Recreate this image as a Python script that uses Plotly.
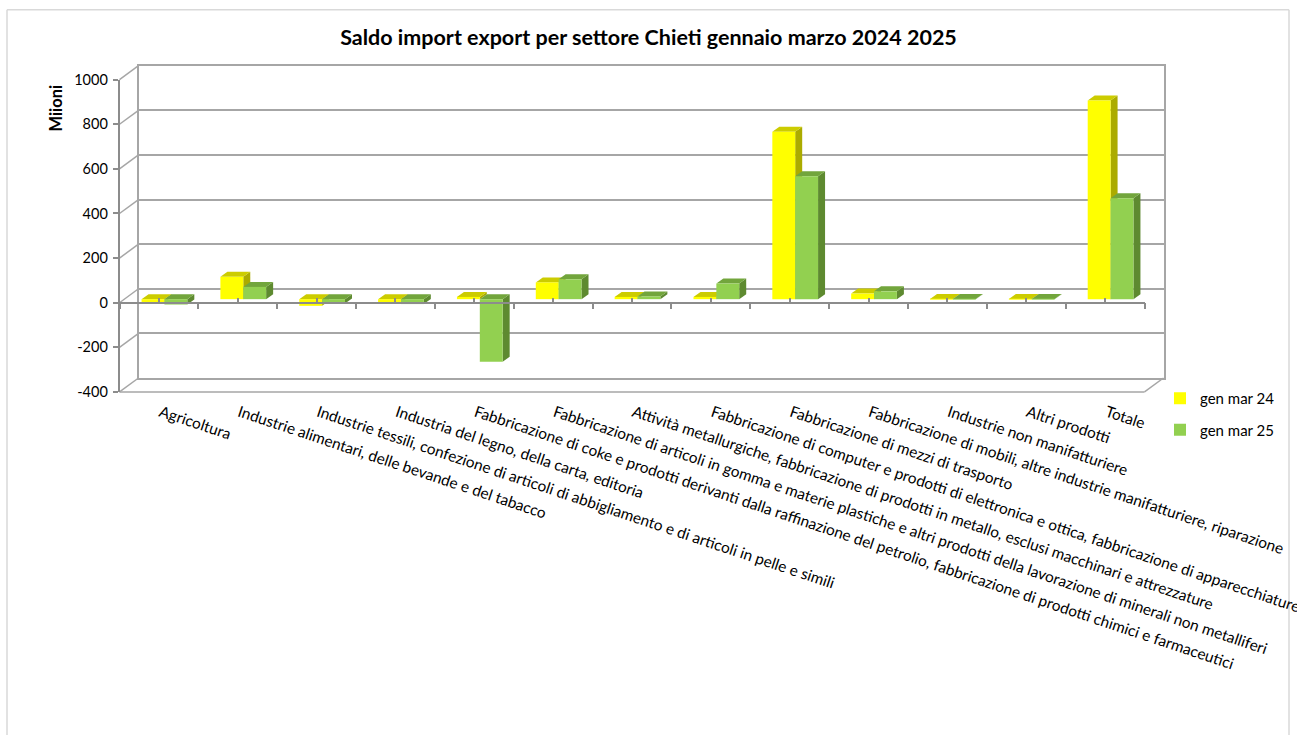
import plotly.graph_objects as go

# ---------------- data ----------------
categories = [
    "Agricoltura",
    "Industrie alimentari, delle bevande e del tabacco",
    "Industrie tessili, confezione di articoli di abbigliamento e di articoli in pelle e simili",
    "Industria del legno, della carta, editoria",
    "Fabbricazione di coke e prodotti derivanti dalla raffinazione del petrolio, fabbricazione di prodotti chimici e farmaceutici",
    "Fabbricazione di articoli in gomma e materie plastiche e altri prodotti della lavorazione di minerali non metalliferi",
    "Attività metallurgiche, fabbricazione di prodotti in metallo, esclusi macchinari e attrezzature",
    "Fabbricazione di computer e prodotti di elettronica e ottica, fabbricazione di apparecchiature",
    "Fabbricazione di mezzi di trasporto",
    "Fabbricazione di mobili, altre industrie manifatturiere, riparazione",
    "Industrie non manifatturiere",
    "Altri prodotti",
    "Totale",
]
series_names = ["gen mar 24", "gen mar 25"]
gen_mar_24 = [-14, 100, -30, -15, 10, 75, 10, 10, 751, 25, 1, 1, 891]
gen_mar_25 = [-24, 55, -19, -22, -280, 89, 12, 70, 551, 35, 1, 1, 452]
y_ticks = [-400, -200, 0, 200, 400, 600, 800, 1000]
y_tick_labels = ["-400", "-200", "0", "200", "400", "600", "800", "1000"]
title_text = "Saldo import export per settore Chieti gennaio marzo 2024 2025"
y_title = "Miioni"

# ---------------- layout geometry (pixels of the picture) ----------------
W, H = 1297, 735
FONT = "Lato"
# vertical calibration of the photographed page
OFF, SC = 8.2, 0.979

def px(p):
    return p / W

def py(p):
    return 1 - ((p - OFF) / SC) / H

# back wall
BX0, BX1, BY_TOP, BY_BOT = 138.5, 1163.5, 65, 378
# front plane
FX0, FX1, FY_TOP, FY_BOT = 119.5, 1144.5, 79, 392
# bar plane
X0, X1, ZERO_BAR = 125, 1150, 299
YMIN, YMAX = y_ticks[0], y_ticks[-1]
S = (BY_BOT - BY_TOP) / (YMAX - YMIN)  # px per unit
FRONT_ZERO = FY_BOT - (0 - YMIN) * S

n = len(categories)
cat_px = (X1 - X0) / n
bargap = 0.42
half = (1 - bargap) / 2
DX = 7 / cat_px
DY = 5 / S

colors_front = ["#FFFF00", "#92D050"]
colors_top = ["#CCCC00", "#72A53C"]
colors_side = ["#ABAB00", "#5E8A30"]

fig = go.Figure()

# bars (front faces)
for j, (name, vals) in enumerate(zip(series_names, [gen_mar_24, gen_mar_25])):
    fig.add_trace(go.Bar(
        x=list(range(n)), y=vals, name=name,
        marker=dict(color=colors_front[j], line=dict(width=0)),
        xaxis="x2", yaxis="y2", hoverinfo="skip",
        legendgroup=name,
    ))

# invisible traces so the wall / front-plane subplots exist
fig.add_trace(go.Scatter(x=[0], y=[0], xaxis="x3", yaxis="y3", mode="markers",
                         marker=dict(opacity=0), showlegend=False, hoverinfo="skip"))
fig.add_trace(go.Scatter(x=[0.5], y=[0], xaxis="x", yaxis="y", mode="markers",
                         marker=dict(opacity=0), showlegend=False, hoverinfo="skip"))

shapes = []

def poly(pts):
    return "M " + " L ".join(f"{x},{y}" for x, y in pts) + " Z"

# 3D faces of bars, derived from the data
for j, vals in enumerate([gen_mar_24, gen_mar_25]):
    for i, v in enumerate(vals):
        x0 = i - half + j * half
        x1 = x0 + half
        top = max(v, 0)
        bot = min(v, 0)
        side = [(x1, bot), (x1, top), (x1 + DX, top + DY), (x1 + DX, bot + DY)]
        topf = [(x0, top), (x1, top), (x1 + DX, top + DY), (x0 + DX, top + DY)]
        for pts, col in ((side, colors_side[j]), (topf, colors_top[j])):
            shapes.append(dict(type="path", path=poly(pts), xref="x2", yref="y2",
                               fillcolor=col, line=dict(width=0), layer="below"))

LINE = "#a6a6a6"
# left wall perspective lines
for v in y_ticks:
    fy = FY_BOT - (v - YMIN) * S
    by = BY_BOT - (v - YMIN) * S
    shapes.append(dict(type="line", xref="paper", yref="paper",
                       x0=px(FX0), y0=py(fy), x1=px(BX0), y1=py(by),
                       line=dict(color=LINE, width=1.5), layer="below"))
# floor front edge and right slant
shapes.append(dict(type="line", xref="paper", yref="paper",
                   x0=px(FX0), y0=py(FY_BOT), x1=px(FX1), y1=py(FY_BOT),
                   line=dict(color=LINE, width=1.5), layer="below"))
shapes.append(dict(type="line", xref="paper", yref="paper",
                   x0=px(FX1), y0=py(FY_BOT), x1=px(BX1), y1=py(BY_BOT),
                   line=dict(color=LINE, width=1.5), layer="below"))
# chart frame (left, top, right edges; bottom lies outside the picture)
FRAME = "#d9d9d9"
for (ax0, ay0, ax1, ay1) in [(7, 9, 1289, 9), (7, 9, 7, 745), (1289, 9, 1289, 745)]:
    shapes.append(dict(type="line", xref="paper", yref="paper",
                       x0=px(ax0), y0=py(ay0), x1=px(ax1), y1=py(ay1),
                       line=dict(color=FRAME, width=1.5), layer="below"))

bar_ymin = -(FY_BOT - ZERO_BAR) / S
bar_ymax = (ZERO_BAR - BY_TOP) / S

fig.update_layout(
    width=W, height=H,
    margin=dict(l=0, r=0, t=0, b=0),
    paper_bgcolor="white", plot_bgcolor="rgba(0,0,0,0)",
    font=dict(family=FONT, color="#000000", size=14),
    barmode="group", bargap=bargap, bargroupgap=0,
    showlegend=True,
    legend=dict(x=px(1160), y=py(382), xanchor="left", yanchor="top",
                font=dict(size=15, family=FONT), tracegroupgap=9,
                bgcolor="rgba(0,0,0,0)"),
    title=dict(text=title_text, x=0.5, xanchor="center", xref="paper",
               y=py(37), yanchor="middle", yref="paper",
               font=dict(family=FONT, size=21.5, color="#000000", weight="bold")),
    shapes=shapes,
    # back wall
    xaxis=dict(domain=[px(BX0), px(BX1)], range=[0, 1], anchor="y",
               showline=True, mirror=True, linecolor=LINE, linewidth=2,
               showticklabels=False, ticks="", showgrid=False, zeroline=False,
               fixedrange=True),
    yaxis=dict(domain=[py(BY_BOT), py(BY_TOP)], range=[YMIN, YMAX], anchor="x",
               tickvals=y_ticks, showgrid=True, gridcolor=LINE, gridwidth=2,
               showline=True, mirror=True, linecolor=LINE, linewidth=2,
               showticklabels=False, ticks="", zeroline=False, fixedrange=True),
    # bar plane
    xaxis2=dict(domain=[px(X0), px(X1)], range=[-0.5, n - 0.5], anchor="y2",
                tickvals=list(range(n)), ticktext=categories, tickangle=18.5,
                showline=False, ticks="", showgrid=False, zeroline=False,
                automargin=False, ticklabelshift=-4, ticklabelstandoff=8,
                ticklabeloverflow="allow",
                tickfont=dict(size=15.4, family=FONT, color="#000000"),
                fixedrange=True),
    yaxis2=dict(domain=[py(FY_BOT), py(BY_TOP)], range=[bar_ymin, bar_ymax], anchor="x2",
                visible=False, showgrid=False, zeroline=False, fixedrange=True),
    # front plane
    xaxis3=dict(domain=[px(FX0), px(FX1)], range=[0, n], anchor="free",
                position=py(FRONT_ZERO),
                showline=True, linecolor="#8c8c8c", linewidth=1.5,
                tickmode="linear", tick0=0, dtick=1, ticks="outside", ticklen=6,
                tickcolor="#8c8c8c", tickwidth=1.5,
                minor=dict(ticks="inside", ticklen=4, tick0=0.5, dtick=1,
                           tickcolor="#8c8c8c", tickwidth=1.5, showgrid=False),
                showticklabels=False, showgrid=False, zeroline=False, fixedrange=True),
    yaxis3=dict(domain=[py(FY_BOT), py(FY_TOP)], range=[YMIN, YMAX], anchor="x3",
                tickvals=y_ticks, ticktext=y_tick_labels,
                showline=True, linecolor="#8c8c8c", linewidth=1.5,
                ticks="outside", ticklen=5, tickcolor="#8c8c8c", tickwidth=1.5,
                ticklabelstandoff=2,
                tickfont=dict(size=14.5, family=FONT, color="#000000"),
                showgrid=False, zeroline=False, fixedrange=True),
    annotations=[dict(text="<b>" + y_title + "</b>", xref="paper", yref="paper",
                      x=px(56), y=py(108), textangle=-90, showarrow=False,
                      font=dict(size=16.5, family=FONT, color="#000000"),
                      xanchor="center", yanchor="middle")],
)

fig.write_html("out.html")
